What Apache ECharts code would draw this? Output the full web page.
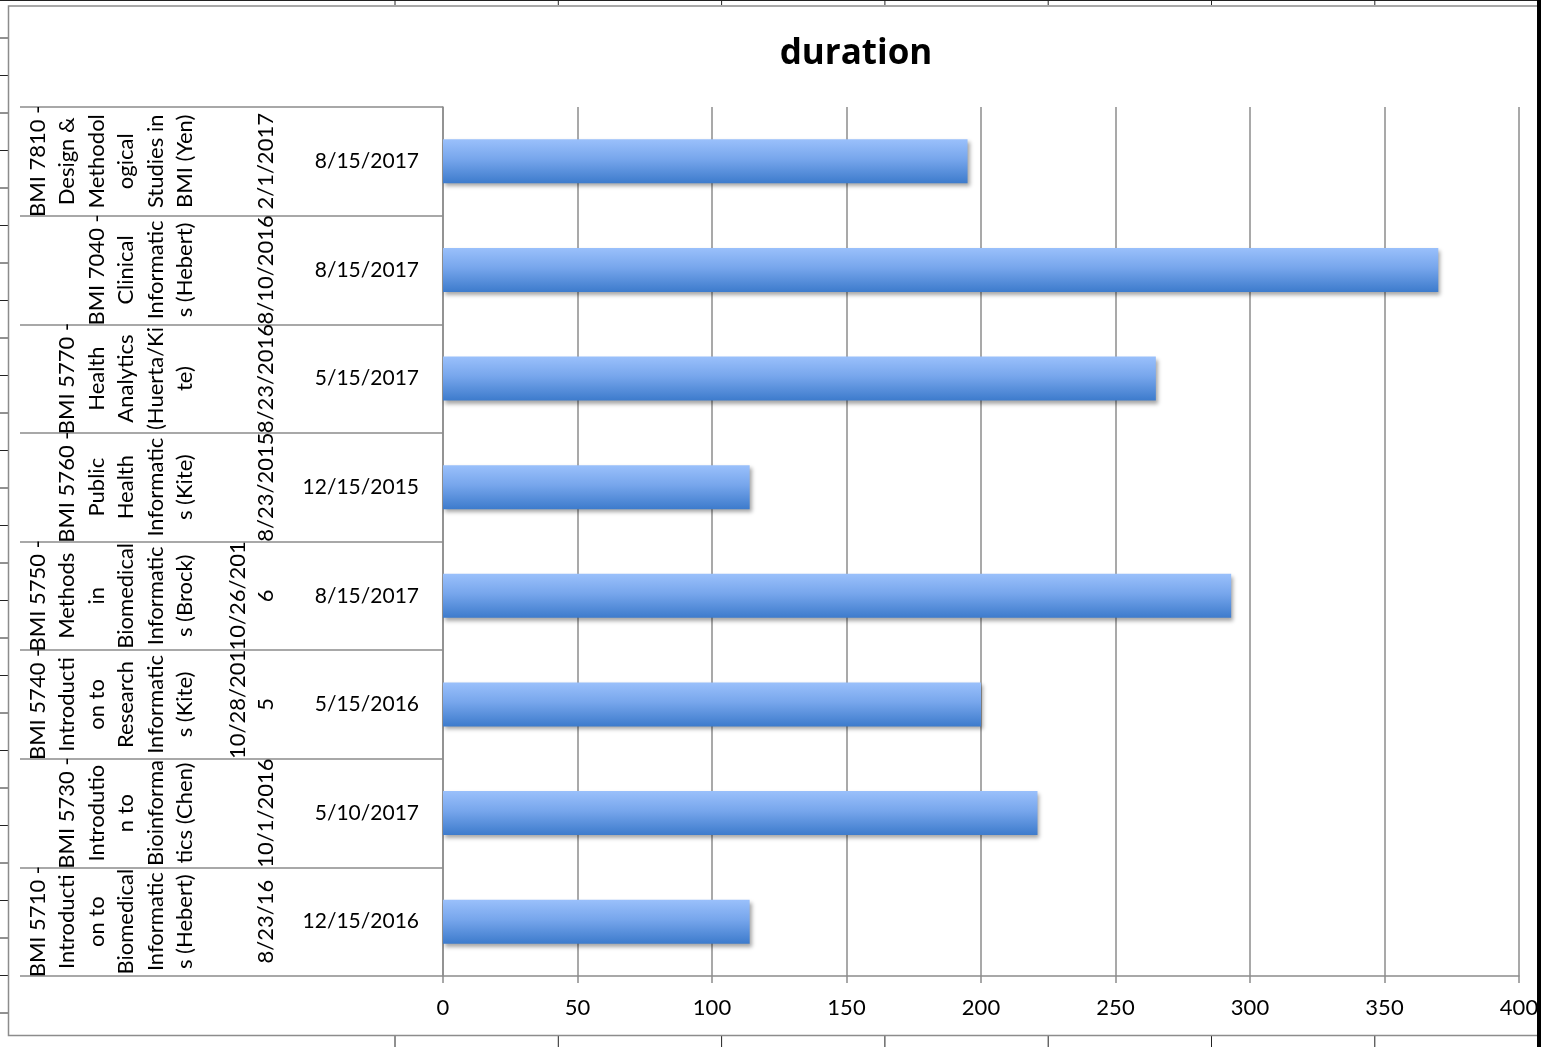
<!DOCTYPE html>
<html>
<head>
<meta charset="utf-8">
<title>duration</title>
<script src="https://cdn.jsdelivr.net/npm/echarts@6/dist/echarts.min.js"></script>
<style>
  html, body { margin: 0; padding: 0; background: #fff; }
  #chart { width: 1550px; height: 1047px; }
</style>
</head>
<body>
<div id="chart"></div>
<script>
// rows listed top to bottom, wrapped the way the sheet wraps them
var courses = [
  'BMI 7810 -\nDesign &\nMethodol\nogical\nStudies in\nBMI (Yen)',
  'BMI 7040 -\nClinical\nInformatic\ns (Hebert)',
  'BMI 5770 -\nHealth\nAnalytics\n(Huerta/Ki\nte)',
  'BMI 5760 -\nPublic\nHealth\nInformatic\ns (Kite)',
  'BMI 5750 -\nMethods\nin\nBiomedical\nInformatic\ns (Brock)',
  'BMI 5740 -\nIntroducti\non to\nResearch\nInformatic\ns (Kite)',
  'BMI 5730 -\nIntrodutio\nn to\nBioinforma\ntics (Chen)',
  'BMI 5710 -\nIntroducti\non to\nBiomedical\nInformatic\ns (Hebert)'
]
var startDates = ['2/1/2017', '8/10/2016', '8/23/2016', '8/23/2015', '10/26/201\n6', '10/28/201\n5', '10/1/2016', '8/23/16']
var endDates = ['8/15/2017', '8/15/2017', '5/15/2017', '12/15/2015', '8/15/2017', '5/15/2016', '5/10/2017', '12/15/2016']
var duration = [195, 370, 265, 114, 293, 200, 221, 114]

var X_MIN = 0
var X_MAX = 400
var X_STEP = 50

var FONT = 'Lato'
var GRID_GRAY = '#8c8c8c'

var chart = echarts.init(document.getElementById('chart'), null, { renderer: 'canvas' })

// sheet decoration round the chart object (row / column lines, border)
var deco = []
for (var r = 38; r < 1040; r += 37.5) {
  deco.push({ type: 'line', shape: { x1: 0, y1: r, x2: 8, y2: r }, style: { stroke: '#222', lineWidth: 1 } })
}
for (var c = 395; c < 1540; c += 163.3) {
  deco.push({ type: 'line', shape: { x1: c, y1: 0, x2: c, y2: 5 }, style: { stroke: '#222', lineWidth: 1 } })
  deco.push({ type: 'line', shape: { x1: c, y1: 1036, x2: c, y2: 1047 }, style: { stroke: '#222', lineWidth: 1 } })
}
deco.push({ type: 'line', shape: { x1: 0, y1: 0.5, x2: 1540, y2: 0.5 }, style: { stroke: '#222', lineWidth: 1 } })
deco.push({ type: 'rect', shape: { x: 8.5, y: 6, width: 1530, height: 1029.5 }, style: { fill: null, stroke: GRID_GRAY, lineWidth: 1.5 } })
deco.push({ type: 'rect', shape: { x: 1537, y: 0, width: 13, height: 1047 }, style: { fill: '#fff' }, z: 100 })
deco.push({ type: 'rect', shape: { x: 1537, y: 0, width: 4, height: 1047 }, style: { fill: '#000' }, z: 101 })

var option = {
  backgroundColor: '#fff',
  animation: false,
  title: {
    text: 'duration',
    left: 851,
    top: 32,
    textAlign: 'center',
    textStyle: { fontFamily: 'Open Sans', fontWeight: 'bold', fontSize: 35, color: '#000' }
  },
  grid: {
    left: 443,
    right: 31,
    top: 107,
    bottom: 71,
    containLabel: false,
    outerBoundsMode: 'none'
  },
  xAxis: {
    type: 'value',
    min: X_MIN,
    max: X_MAX,
    interval: X_STEP,
    axisLine: { show: true, lineStyle: { color: GRID_GRAY, width: 1.5 } },
    axisTick: { show: true, length: 7, lineStyle: { color: GRID_GRAY, width: 1.5 } },
    axisLabel: { margin: 21, fontFamily: FONT, fontSize: 22, color: '#000' },
    splitLine: { show: true, lineStyle: { color: GRID_GRAY, width: 1.5 } }
  },
  yAxis: [
    {
      type: 'category',
      data: endDates,
      inverse: true,
      axisLine: { show: true, lineStyle: { color: GRID_GRAY, width: 1.5 } },
      axisTick: { show: true, length: 423, lineStyle: { color: GRID_GRAY, width: 1.5 } },
      axisLabel: { interval: 0, margin: 24, fontFamily: FONT, fontSize: 21, color: '#000' },
      splitLine: { show: false }
    },
    {
      type: 'category',
      data: startDates,
      inverse: true,
      position: 'left',
      axisLine: { show: false },
      axisTick: { show: false },
      axisLabel: {
        interval: 0, margin: 163, rotate: 90, align: 'center', verticalAlign: 'bottom',
        lineHeight: 28, fontFamily: FONT, fontSize: 22, color: '#000'
      },
      splitLine: { show: false }
    },
    {
      type: 'category',
      data: courses,
      inverse: true,
      position: 'left',
      axisLine: { show: false },
      axisTick: { show: false },
      axisLabel: {
        interval: 0, margin: 243, rotate: 90, align: 'center', verticalAlign: 'bottom',
        lineHeight: 29.5, fontFamily: FONT, fontSize: 22, color: '#000'
      },
      splitLine: { show: false }
    }
  ],
  series: [{
    name: 'duration',
    type: 'bar',
    yAxisIndex: 0,
    data: duration,
    barWidth: 44,
    itemStyle: {
      color: new echarts.graphic.LinearGradient(0, 0, 0, 1, [
        { offset: 0, color: '#9ac0fb' },
        { offset: 0.45, color: '#77a6ec' },
        { offset: 1, color: '#3d7bcc' }
      ]),
      shadowColor: 'rgba(0, 0, 0, 0.35)',
      shadowBlur: 4,
      shadowOffsetX: 2,
      shadowOffsetY: 3
    }
  }],
  graphic: deco
}

chart.setOption(option)
</script>
</body>
</html>
